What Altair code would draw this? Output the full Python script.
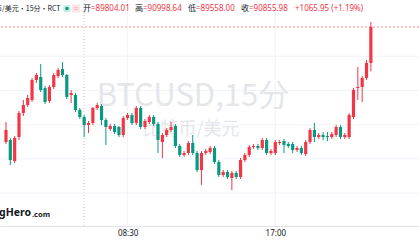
import altair as alt
import pandas as pd

# ---- data (15-min BTCUSD candles) ----
opens = [87493, 87551, 86937, 87639, 88341, 88575, 88721, 89306, 89394, 89072,
         88692, 89101, 89423, 89627, 89452, 88867, 88867, 88429, 88224, 87990,
         88048, 88487, 88546, 88136, 87873, 87961, 87932, 87698, 88195, 88282,
         88048, 88487, 87932, 88078, 88224, 88019, 87493, 87698, 87844, 87961,
         87376, 87113, 87171, 87464, 87171, 86674, 87171, 87201, 87317, 86908,
         86528, 86616, 86440, 86586, 86470, 86967, 87113, 87347, 87376, 87317,
         87551, 87171, 87171, 87464, 87522, 87434, 87434, 87259, 87317, 87142,
         87493, 87844, 87639, 87698, 87668, 87639, 87698, 87932, 87639, 87639,
         88224, 89072, 89101, 89364, 89804.01]
closes = [87844, 86967, 87610, 88341, 88575, 88779, 89306, 89452, 89013, 88663,
          89101, 89452, 89598, 89452, 88809, 88926, 88429, 88224, 87990, 88048,
          88487, 88575, 88136, 87932, 87961, 87785, 87698, 88195, 88282, 88048,
          88487, 87932, 88107, 88224, 88019, 87551, 87698, 87844, 87932, 87376,
          87113, 87171, 87464, 87171, 86674, 87171, 87230, 87317, 86908, 86528,
          86616, 86470, 86586, 86470, 86967, 87113, 87347, 87376, 87317, 87551,
          87171, 87230, 87493, 87493, 87405, 87376, 87259, 87317, 87171, 87493,
          87844, 87639, 87698, 87639, 87639, 87727, 87932, 87639, 87698, 88282,
          89013, 89101, 89364, 89804, 90855.98]
highs = [88078, 87610, 87668, 88399, 88721, 88867, 89364, 89510, 89774, 89130,
         89160, 89510, 89657, 89832, 89481, 89013, 88926, 88487, 88282, 88107,
         88516, 88633, 88604, 88195, 88019, 88019, 87961, 88253, 88341, 88341,
         88546, 88546, 88165, 88282, 88282, 88078, 87756, 87902, 88078, 88019,
         87434, 87230, 87522, 87698, 87230, 87230, 87288, 87376, 87376, 86967,
         86674, 86674, 86645, 86645, 87025, 87171, 87405, 87434, 87434, 87610,
         87610, 87288, 87551, 87551, 87581, 87493, 87493, 87376, 87376, 87551,
         87902, 88048, 87756, 87785, 87785, 87785, 87990, 87990, 87756, 88341,
         89072, 89686, 89423, 89891, 90998.64]
lows = [87434, 86820, 86879, 87551, 88253, 88516, 88663, 89218, 88955, 88604,
        88633, 89043, 89364, 89394, 88750, 88633, 88370, 88165, 87639, 87756,
        87990, 88429, 87990, 87405, 87815, 87727, 87639, 87639, 88136, 87990,
        87990, 87873, 87873, 88019, 87961, 87171, 87025, 87639, 87785, 87317,
        87054, 87054, 87113, 87113, 86616, 86236, 87113, 87142, 86850, 86470,
        86470, 86411, 86089, 86411, 86411, 86908, 87054, 87288, 87259, 87259,
        87113, 87113, 87113, 87405, 87171, 87317, 87171, 87201, 87113, 87084,
        87434, 87493, 87581, 87551, 87522, 87581, 87639, 87581, 87581, 87581,
        88165, 88721, 88663, 89306, 89558.00]

tick_index = [28, 62]
tick_labels = ["08:30", "17:00"]
grid_prices = [86000, 87000, 88000, 89000, 90000]
session_break = [18]
last_close = 90855.98

UP, DOWN = "#F23645", "#089981"

n = len(opens)
df = pd.DataFrame({"i": list(range(n)), "open": opens, "close": closes,
                   "high": highs, "low": lows})
df["dir"] = ["up" if c >= o else "down" for o, c in zip(opens, closes)]

x_scale = alt.Scale(domain=[-0.225, 93.93], nice=False, zero=False)
y_scale = alt.Scale(domain=[85037, 91645], nice=False, zero=False)
color = alt.Color("dir:N", scale=alt.Scale(domain=["up", "down"], range=[UP, DOWN]), legend=None)

label_expr = " : ".join(
    [f"datum.value == {v} ? '{t}'" for v, t in zip(tick_index, tick_labels)]) + " : ''"
x_axis = alt.Axis(values=tick_index, labelExpr=label_expr, grid=False, ticks=False,
                  domainColor="#e0e3eb", labelColor="#131722", labelFontSize=8,
                  labelFont="Noto Sans", labelPadding=3, title=None)

# grids
hgrid = alt.Chart(pd.DataFrame({"p": grid_prices})).mark_rule(
    color="#f0f3fa", strokeWidth=1).encode(y=alt.Y("p:Q", scale=y_scale, axis=None))
vgrid = alt.Chart(pd.DataFrame({"i": tick_index})).mark_rule(
    color="#f0f3fa", strokeWidth=1).encode(x=alt.X("i:Q", scale=x_scale, axis=x_axis))
vbreak = alt.Chart(pd.DataFrame({"i": session_break})).mark_rule(
    color="#c9ccd3", strokeWidth=1, strokeDash=[1, 2]).encode(
    x=alt.X("i:Q", scale=x_scale, axis=x_axis))

# watermark
wm1 = alt.Chart(alt.Data(values=[{}])).mark_text(
    font="Noto Sans CJK SC", fontSize=31, color="#e4e6eb", align="center", baseline="middle"
).encode(x=alt.value(193), y=alt.value(97), text=alt.value("BTCUSD,15分"))
wm2 = alt.Chart(alt.Data(values=[{}])).mark_text(
    font="Noto Sans CJK SC", fontSize=18, color="#e4e6eb", align="center", baseline="middle"
).encode(x=alt.value(191), y=alt.value(130), text=alt.value("比特币/美元"))

# close price dotted line
close_line = alt.Chart(pd.DataFrame({"p": [last_close]})).mark_rule(
    color=UP, strokeWidth=1, strokeDash=[2, 2], opacity=0.6).encode(
    y=alt.Y("p:Q", scale=y_scale, axis=None))

wicks = alt.Chart(df).mark_rule(strokeWidth=1).encode(
    x=alt.X("i:Q", scale=x_scale, axis=x_axis),
    y=alt.Y("low:Q", scale=y_scale, axis=None),
    y2="high:Q", color=color)
bodies = alt.Chart(df).mark_bar(size=3.2).encode(
    x=alt.X("i:Q", scale=x_scale, axis=x_axis),
    y=alt.Y("open:Q", scale=y_scale, axis=None),
    y2="close:Q", color=color)


def label(txt, x, y, size=8, col="#131722", align="left", weight="normal", font="Noto Sans CJK SC"):
    return alt.Chart(alt.Data(values=[{}])).mark_text(
        font=font, fontSize=size, color=col, align=align, baseline="middle", fontWeight=weight
    ).encode(x=alt.value(x), y=alt.value(y), text=alt.value(txt))


hy = 8.5
header = [
    label("比特币/美元·15分·RCT", -19, hy, size=7, align="left"),
    alt.Chart(alt.Data(values=[{}])).mark_point(filled=True, color="#c8ece6", size=60, opacity=1).encode(
        x=alt.value(67), y=alt.value(hy)),
    alt.Chart(alt.Data(values=[{}])).mark_point(filled=True, color=DOWN, size=12, opacity=1).encode(
        x=alt.value(67), y=alt.value(hy)),
    alt.Chart(alt.Data(values=[{}])).mark_point(filled=True, shape="square", color="#fde6e8", size=70, opacity=1).encode(
        x=alt.value(76), y=alt.value(hy)),
    label("=", 76, hy, col="#f59aa3", align="center"),
    label("开", 83, hy), label("=89804.01", 91, hy, col=UP, font="Noto Sans"),
    label("高", 135, hy), label("=90998.64", 143, hy, col=UP, font="Noto Sans"),
    label("低", 188, hy), label("=89558.00", 196, hy, col=UP, font="Noto Sans"),
    label("收", 241, hy), label("=90855.98", 249, hy, col=UP, font="Noto Sans"),
    label("+1065.95 (+1.19%)", 295, hy, col=UP, font="Noto Sans"),
]
logo = [
    label("gHero", -1, 213, size=10.5, weight="bold", font="Noto Sans"),
    label(".com", 32, 214.5, size=7.5, weight="bold", font="Noto Sans"),
]

chart = alt.layer(hgrid, vgrid, vbreak, wm1, wm2, close_line, wicks, bodies, *header, *logo).properties(
    width=419, height=226, padding={"left": 0, "top": 0, "right": 0, "bottom": 14},
    autosize=alt.AutoSizeParams(type="none"),
    background="white"
).configure_view(stroke=None)

chart.save("out.html", embed_options={"renderer": "svg", "actions": False})
